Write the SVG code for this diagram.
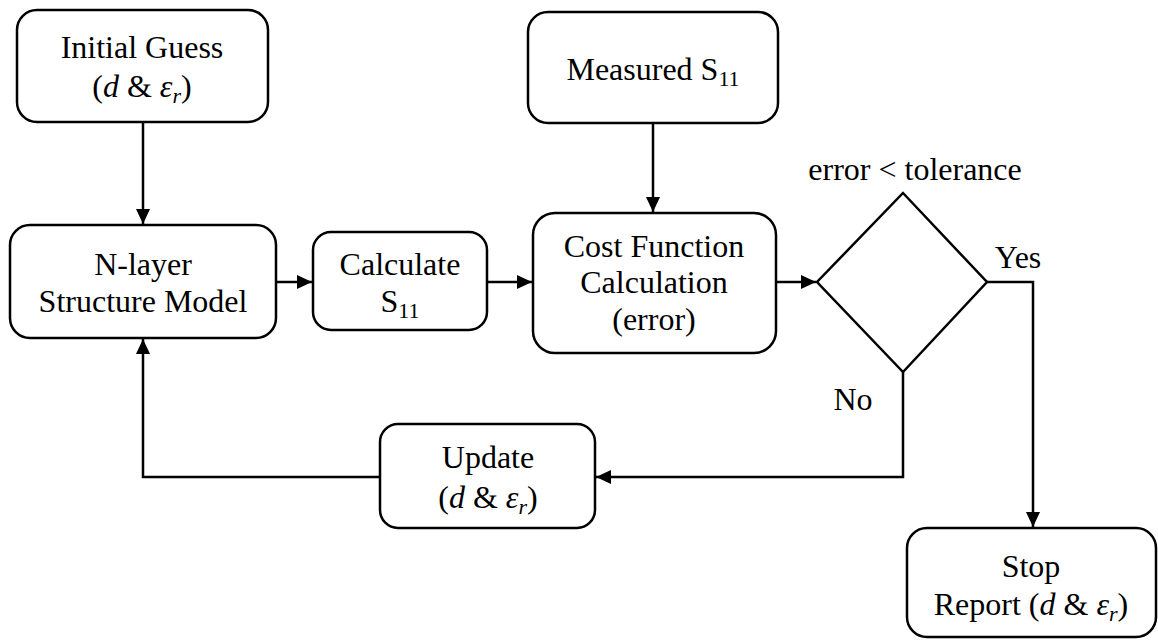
<svg xmlns="http://www.w3.org/2000/svg" width="1158" height="640" viewBox="0 0 1158 640">
<style>
.box{fill:#fff;stroke:#000;stroke-width:2.5}
.t{font-family:"Liberation Serif","Times New Roman",serif;font-size:32px;fill:#000;text-anchor:middle}
.i{font-style:italic}
.c{fill:none;stroke:#000;stroke-width:2.5}
</style>
<defs>
<marker id="ah" markerUnits="userSpaceOnUse" markerWidth="16" markerHeight="15" refX="15" refY="7" orient="auto">
<path d="M0,0 L15,7 L0,14 z" fill="#000"/>
</marker>
</defs>
<rect width="1158" height="640" fill="#fff"/>
<g id="connectors">
<line class="c" x1="143" y1="122" x2="143" y2="224" marker-end="url(#ah)"/>
<line class="c" x1="276" y1="282" x2="312" y2="282" marker-end="url(#ah)"/>
<line class="c" x1="487" y1="282" x2="532" y2="282" marker-end="url(#ah)"/>
<line class="c" x1="653" y1="123" x2="653" y2="212" marker-end="url(#ah)"/>
<line class="c" x1="776" y1="282" x2="816" y2="282" marker-end="url(#ah)"/>
<path class="c" d="M987,282 H1033 V527" marker-end="url(#ah)"/>
<path class="c" d="M903,372 V477 H596" marker-end="url(#ah)"/>
<path class="c" d="M380,477 H143 V339" marker-end="url(#ah)"/>
</g>
<g id="initial-guess">
<rect class="box" x="17" y="10" width="251" height="112" rx="20"/>
<text class="t" x="142" y="58">Initial Guess</text>
<text class="t" x="142" y="97">(<tspan class="i">d</tspan> &amp; <tspan class="i">ε</tspan><tspan class="i" font-size="22" dy="6">r</tspan><tspan dy="-6">)</tspan></text>
</g>
<g id="measured">
<rect class="box" x="528" y="12" width="250" height="111" rx="20"/>
<text class="t" x="653" y="80">Measured S<tspan font-size="22" dy="6">11</tspan></text>
</g>
<g id="nlayer">
<rect class="box" x="10" y="225" width="266" height="113" rx="20"/>
<text class="t" x="143" y="275">N-layer</text>
<text class="t" x="143" y="312">Structure Model</text>
</g>
<g id="calculate">
<rect class="box" x="313" y="232" width="174" height="98" rx="18"/>
<text class="t" x="400" y="275">Calculate</text>
<text class="t" x="400" y="312">S<tspan font-size="22" dy="6">11</tspan></text>
</g>
<g id="cost">
<rect class="box" x="533" y="213" width="243" height="140" rx="22"/>
<text class="t" x="654" y="257">Cost Function</text>
<text class="t" x="654" y="293">Calculation</text>
<text class="t" x="654" y="330">(error)</text>
</g>
<g id="decision">
<polygon class="box" points="903,193 987,282 903,372 817,282"/>
<text class="t" x="915" y="180">error &lt; tolerance</text>
</g>
<g id="labels">
<text class="t" x="1018" y="268">Yes</text>
<text class="t" x="853" y="410">No</text>
</g>
<g id="update">
<rect class="box" x="380" y="424" width="215" height="104" rx="18"/>
<text class="t" x="488" y="468">Update</text>
<text class="t" x="488" y="508">(<tspan class="i">d</tspan> &amp; <tspan class="i">ε</tspan><tspan class="i" font-size="22" dy="6">r</tspan><tspan dy="-6">)</tspan></text>
</g>
<g id="stop">
<rect class="box" x="907" y="528" width="249" height="109" rx="20"/>
<text class="t" x="1031" y="577">Stop</text>
<text class="t" x="1031" y="615">Report (<tspan class="i">d</tspan> &amp; <tspan class="i">ε</tspan><tspan class="i" font-size="22" dy="6">r</tspan><tspan dy="-6">)</tspan></text>
</g>
</svg>
